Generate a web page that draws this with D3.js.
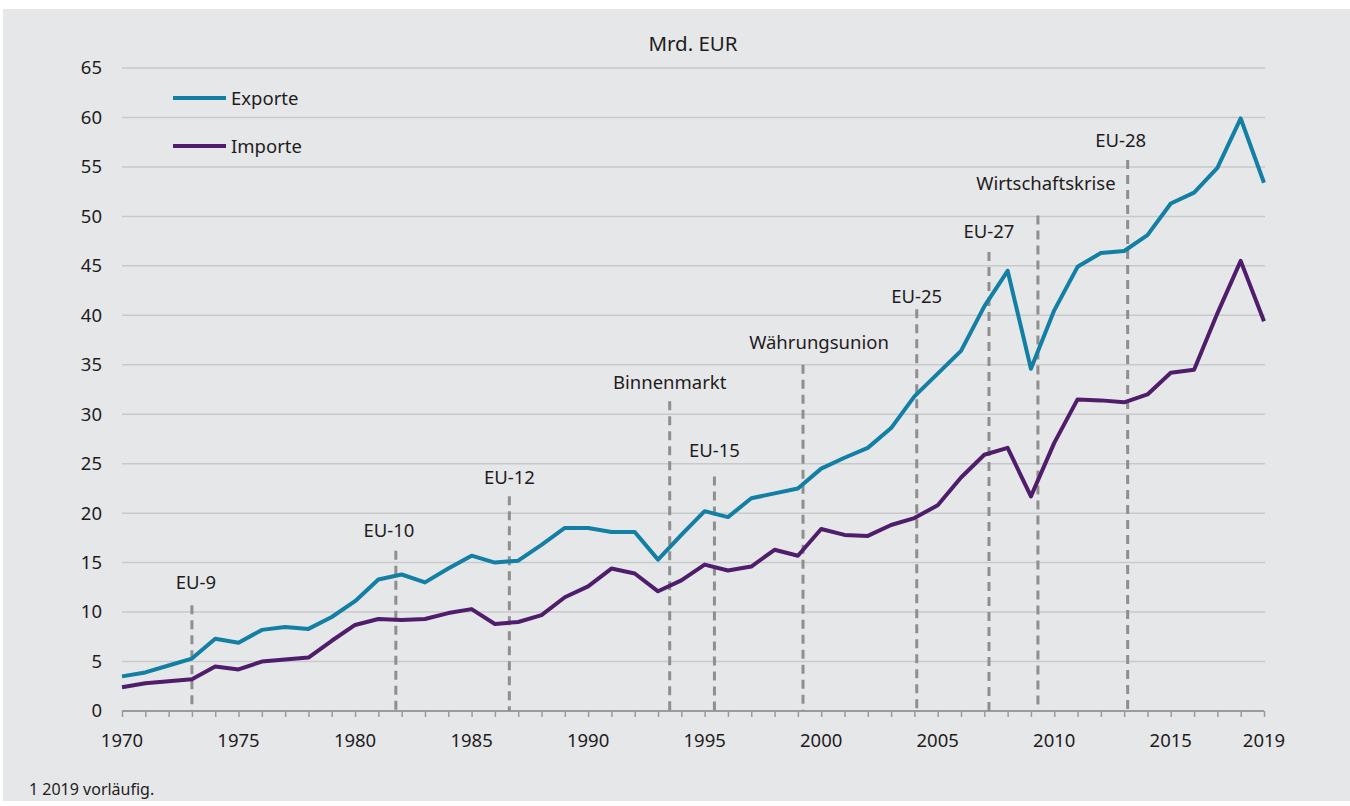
<!DOCTYPE html>
<html>
<head>
<meta charset="utf-8">
<script src="https://cdn.jsdelivr.net/npm/d3@7"></script>
<style>
  body { margin: 0; background: #fff; }
  svg text { font-family: "Noto Sans", "Open Sans", sans-serif; fill: #1f1c1d; }
</style>
</head>
<body>
<div id="chart"></div>
<script>
// years 1970..2019
var years = d3.range(1970, 2020);
var exporte = [3.5, 3.9, 4.6, 5.3, 7.3, 6.9, 8.2, 8.5, 8.3, 9.5,
               11.1, 13.3, 13.8, 13.0, 14.4, 15.7, 15.0, 15.2, 16.8, 18.5,
               18.5, 18.1, 18.1, 15.3, 17.8, 20.2, 19.6, 21.5, 22.0, 22.5,
               24.5, 25.6, 26.6, 28.6, 31.8, 34.1, 36.4, 40.9, 44.5, 34.6,
               40.5, 44.9, 46.3, 46.5, 48.1, 51.3, 52.4, 54.9, 59.9, 53.4];
var importe = [2.4, 2.8, 3.0, 3.2, 4.5, 4.2, 5.0, 5.2, 5.4, 7.1,
               8.7, 9.3, 9.2, 9.3, 9.9, 10.3, 8.8, 9.0, 9.7, 11.5,
               12.6, 14.4, 13.9, 12.1, 13.2, 14.8, 14.2, 14.6, 16.3, 15.7,
               18.4, 17.8, 17.7, 18.8, 19.5, 20.8, 23.6, 25.9, 26.6, 21.7,
               27.1, 31.5, 31.4, 31.2, 32.0, 34.2, 34.5, 40.2, 45.5, 39.4];

// EU milestones: name, position on time axis, top of dashed line, label level (values)
var eventNames = ["EU-9", "EU-10", "EU-12", "Binnenmarkt", "EU-15", "Währungsunion",
                  "EU-25", "EU-27", "Wirtschaftskrise", "EU-28"];
var eventYears = [1973.0, 1981.75, 1986.62, 1993.5, 1995.42, 1999.22, 2004.1, 2007.2, 2009.3, 2013.15];
var eventTops = [10.7, 16.2, 21.7, 31.3, 23.7, 35.0, 40.6, 46.4, 50.1, 55.7];
var labelLevels = [12.3, 17.6, 22.9, 32.6, 25.7, 36.6, 41.2, 47.8, 52.7, 57.0];

var yTicks = d3.range(0, 70, 5);
var xTickLabels = [1970, 1975, 1980, 1985, 1990, 1995, 2000, 2005, 2010, 2015, 2019];

var seriesNames = ["Exporte", "Importe"];
var colors = { Exporte: "#127fa5", Importe: "#4f1d6b" };
// small horizontal nudges for some labels (px)
var labelNudge = { "EU-9": 4, "EU-10": -7, "Währungsunion": 16, "Wirtschaftskrise": 8, "EU-28": -7 };

var W = 1350, H = 806;
var margin = { top: 68, left: 122, right: 86, bottom: 95 };
var innerW = W - margin.left - margin.right;
var innerH = H - margin.top - margin.bottom;

var svg = d3.select("#chart").append("svg")
    .attr("width", W)
    .attr("height", H);

// grey panel
svg.append("rect")
    .attr("x", 3).attr("y", 9)
    .attr("width", W - 3).attr("height", 792)
    .attr("fill", "#e6e7e9");

var x = d3.scaleLinear().domain([1970, 2019]).range([0, innerW]);
var y = d3.scaleLinear().domain([0, 65]).range([innerH, 0]);

var g = svg.append("g").attr("transform", "translate(" + margin.left + "," + margin.top + ")");

// gridlines
g.append("g")
    .selectAll("line")
    .data(yTicks.filter(function(d) { return d > 0; }))
    .enter().append("line")
    .attr("x1", 0).attr("x2", innerW + 1)
    .attr("y1", function(d) { return y(d); })
    .attr("y2", function(d) { return y(d); })
    .attr("stroke", "#c8c9cb")
    .attr("stroke-width", 1.5);

// y axis labels
var yAxis = g.append("g")
    .call(d3.axisLeft(y).tickValues(yTicks).tickSize(0).tickPadding(20));
yAxis.select(".domain").remove();
yAxis.selectAll("text")
    .style("font-size", "18.5px")
    .attr("fill", "#1f1c1d");

// x axis
var xAxis = g.append("g")
    .attr("transform", "translate(0," + innerH + ")")
    .call(d3.axisBottom(x).tickValues(years).tickSize(6).tickFormat(""));
xAxis.select(".domain").attr("stroke", "#9b9b9b").attr("stroke-width", 2)
    .attr("d", "M0,0H" + innerW);
xAxis.selectAll(".tick line").attr("stroke", "#9b9b9b").attr("stroke-width", 1.5);

g.append("g")
    .attr("transform", "translate(0," + innerH + ")")
    .selectAll("text")
    .data(xTickLabels)
    .enter().append("text")
    .attr("x", function(d) { return x(d); })
    .attr("y", 36)
    .attr("text-anchor", "middle")
    .style("font-size", "18.5px")
    .text(function(d) { return d; });

// event dashed lines + labels
var events = eventNames.map(function(n, i) {
    return { name: n, year: eventYears[i], top: eventTops[i], label: labelLevels[i] };
});

g.append("g").selectAll("line")
    .data(events)
    .enter().append("line")
    .attr("x1", function(d) { return x(d.year); })
    .attr("x2", function(d) { return x(d.year); })
    .attr("y1", function(d) { return y(d.top); })
    .attr("y2", innerH)
    .attr("stroke", "#8f8f8f")
    .attr("stroke-width", 3)
    .attr("stroke-dasharray", "9,6");

g.append("g").selectAll("text")
    .data(events)
    .enter().append("text")
    .attr("x", function(d) { return x(d.year) + (labelNudge[d.name] || 0); })
    .attr("y", function(d) { return y(d.label); })
    .attr("text-anchor", "middle")
    .style("font-size", "18.5px")
    .text(function(d) { return d.name; });

// series lines
var line = d3.line()
    .x(function(d, i) { return x(years[i]); })
    .y(function(d) { return y(d); });

var seriesData = { Exporte: exporte, Importe: importe };
seriesNames.forEach(function(name) {
    g.append("path")
        .datum(seriesData[name])
        .attr("fill", "none")
        .attr("stroke", colors[name])
        .attr("stroke-width", 4)
        .attr("stroke-linejoin", "round")
        .attr("d", line);
});

// title above plot
svg.append("text")
    .attr("x", 693)
    .attr("y", 51)
    .attr("text-anchor", "middle")
    .style("font-size", "20.5px")
    .text("Mrd. EUR");

// legend
var legend = svg.append("g").attr("transform", "translate(173,98)");
legend.selectAll("line")
    .data(seriesNames)
    .enter().append("line")
    .attr("x1", 0).attr("x2", 53)
    .attr("y1", function(d, i) { return i * 48; })
    .attr("y2", function(d, i) { return i * 48; })
    .attr("stroke", function(d) { return colors[d]; })
    .attr("stroke-width", 4);
legend.selectAll("text")
    .data(seriesNames)
    .enter().append("text")
    .attr("x", 58)
    .attr("y", function(d, i) { return i * 48 + 7; })
    .style("font-size", "18.5px")
    .text(function(d) { return d; });

// footnote
svg.append("text")
    .attr("x", 29)
    .attr("y", 795)
    .style("font-size", "16px")
    .text("1 2019 vorläufig.");
</script>
</body>
</html>
